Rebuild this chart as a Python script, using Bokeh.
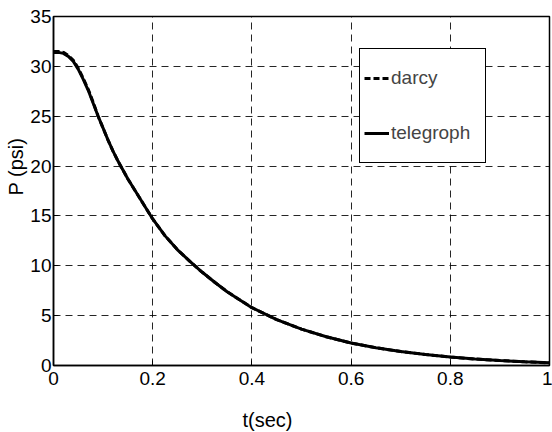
from bokeh.plotting import figure
from bokeh.models import Legend, LegendItem, FixedTicker, Range1d, Title
from bokeh.embed import file_html
from bokeh.resources import INLINE

t = [0.0, 0.01, 0.02, 0.03, 0.04, 0.05, 0.06, 0.07, 0.08, 0.09, 0.10, 0.11, 0.12,
     0.13, 0.14, 0.15, 0.16, 0.17, 0.18, 0.19, 0.20, 0.225, 0.25, 0.275, 0.30,
     0.325, 0.35, 0.375, 0.40, 0.45, 0.50, 0.55, 0.60, 0.65, 0.70, 0.75, 0.80,
     0.85, 0.90, 0.95, 1.00]
p_telegraph = [31.4, 31.4, 31.3, 31.0, 30.5, 29.7, 28.7, 27.6, 26.3, 25.0, 23.8,
               22.6, 21.5, 20.5, 19.6, 18.7, 17.9, 17.1, 16.3, 15.5, 14.7, 13.0,
               11.6, 10.45, 9.35, 8.35, 7.4, 6.6, 5.8, 4.6, 3.65, 2.88, 2.25, 1.78,
               1.4, 1.1, 0.85, 0.65, 0.5, 0.37, 0.27]
p_darcy = [31.5, 31.5, 31.4, 31.1, 30.6, 29.8, 28.8, 27.7, 26.4, 25.0, 23.8,
           22.6, 21.5, 20.5, 19.6, 18.7, 17.9, 17.1, 16.3, 15.5, 14.7, 13.0,
           11.6, 10.45, 9.35, 8.35, 7.4, 6.6, 5.8, 4.6, 3.65, 2.88, 2.25, 1.78,
           1.4, 1.1, 0.85, 0.65, 0.5, 0.37, 0.27]
x_ticks = [0, 0.2, 0.4, 0.6, 0.8, 1]
y_ticks = [0, 5, 10, 15, 20, 25, 30, 35]

FONT = "Liberation Sans"

p = figure(width=552, height=432, output_backend="svg", toolbar_location=None,
           x_range=Range1d(0, 1), y_range=Range1d(0, 35),
           min_border_left=53, min_border_right=3, min_border_top=16, min_border_bottom=67)
p.background_fill_color = "white"
p.border_fill_color = "white"
p.outline_line_color = "black"
p.outline_line_width = 1.5

for ax in (p.xaxis[0], p.yaxis[0]):
    ax.major_label_text_font = FONT
    ax.major_label_text_font_size = "19px"
    ax.major_label_text_color = "black"
    ax.major_tick_in = 5
    ax.major_tick_out = 0
    ax.minor_tick_in = 0
    ax.minor_tick_out = 0
    ax.axis_line_color = "black"
    ax.axis_line_width = 1.5
p.xaxis[0].ticker = FixedTicker(ticks=x_ticks)
p.yaxis[0].ticker = FixedTicker(ticks=y_ticks)
p.xaxis[0].major_label_overrides = {0: "0", 1: "1"}
p.xaxis[0].major_label_standoff = 6
p.yaxis[0].major_label_standoff = 2

for g in (p.xgrid[0], p.ygrid[0]):
    g.grid_line_color = "black"
    g.grid_line_alpha = 0.85
    g.grid_line_dash = "7 5"
    g.grid_line_width = 1

r_darcy = p.line(t, p_darcy, line_color="black", line_width=3, line_dash="6 3")
r_tel = p.line(t, p_telegraph, line_color="black", line_width=3)

legend = Legend(items=[LegendItem(label="darcy", renderers=[r_darcy]),
                       LegendItem(label="telegroph", renderers=[r_tel])],
                location=(306, 202), orientation="vertical",
                label_text_font=FONT, label_text_font_size="19px",
                glyph_width=25, glyph_height=20, label_height=50, label_width=90,
                label_standoff=2, spacing=5, padding=4, margin=0,
                border_line_color="black", border_line_width=1.5, border_line_alpha=1,
                background_fill_color="white", background_fill_alpha=1)
p.add_layout(legend, "center")

p.add_layout(Title(text="t(sec)", align="left", offset=189, standoff=0,
                   padding={"top": 19, "right": 0, "bottom": 0, "left": 0},
                   text_font=FONT, text_font_size="20px", text_font_style="normal",
                   text_color="black"), "below")
p.add_layout(Title(text="P (psi)", align="left", offset=170, standoff=2,
                   text_font=FONT, text_font_size="20px", text_font_style="normal",
                   text_color="black"), "left")

open("out.html", "w").write(file_html(p, INLINE))
